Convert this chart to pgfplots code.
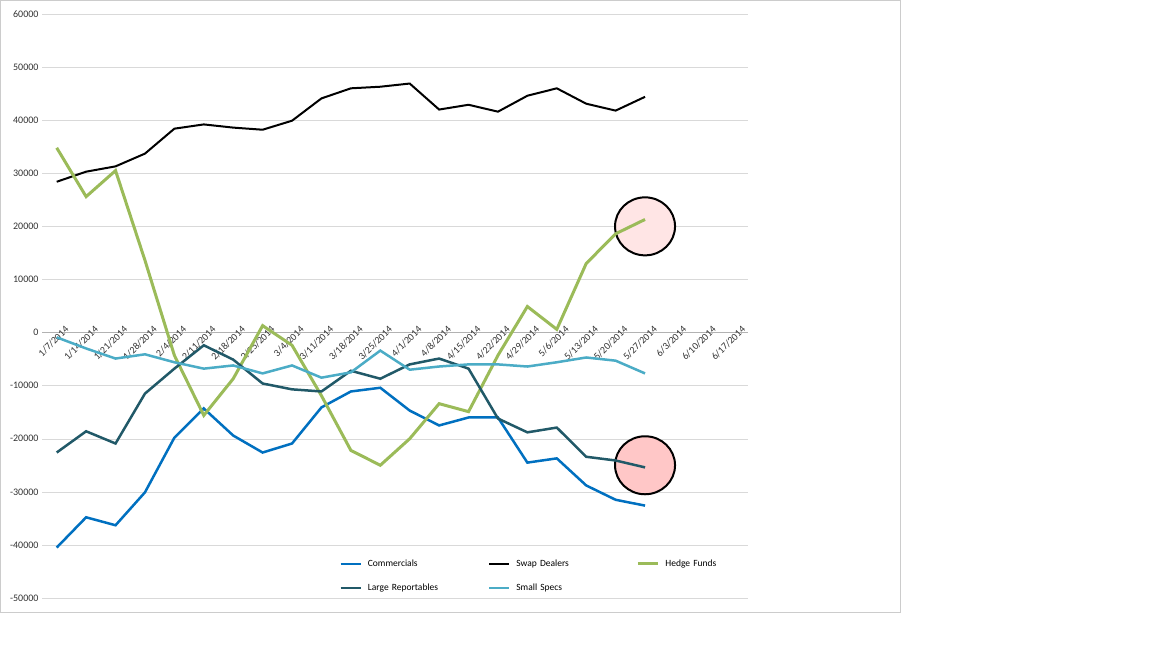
\documentclass[border=0pt]{standalone}
\usepackage{pgfplots}
\pgfplotsset{compat=1.18}
\usepackage{fontspec}
\setmainfont{Carlito}
\definecolor{cblue}{HTML}{0070C0}
\definecolor{cgreen}{HTML}{9BBB59}
\definecolor{cdark}{HTML}{215968}
\definecolor{clight}{HTML}{4BACC6}
\begin{document}
\begin{tikzpicture}[x=1pt,y=1pt]
\fill[white] (0,0) rectangle (1152,648);
\draw[gray!40] (0.5,36) rectangle (900,647.5);
\begin{axis}[at={(42pt,50pt)},anchor=south west,scale only axis,width=706pt,height=584pt,
 xmin=-0.5,xmax=23.5,ymin=-50000,ymax=60000,
 axis x line=middle, axis y line=left,
 x axis line style={draw=gray!60,-}, y axis line style={draw=none},
 ytick={-50000,-40000,...,60000}, ymajorgrids, grid style={gray!30},
 major tick length=0pt,
 scaled y ticks=false,
 yticklabel style={/pgf/number format/.cd,1000 sep={},assume math mode=true},
 xtick={0,...,23},
 xticklabels={1/7/2014,1/14/2014,1/21/2014,1/28/2014,2/4/2014,2/11/2014,2/18/2014,2/25/2014,3/4/2014,3/11/2014,3/18/2014,3/25/2014,4/1/2014,4/8/2014,4/15/2014,4/22/2014,4/29/2014,5/6/2014,5/13/2014,5/20/2014,5/27/2014,6/3/2014,6/10/2014,6/17/2014},
 xticklabel style={rotate=45,anchor=east,xshift=14pt,yshift=-4pt},
 tick label style={font=\fontsize{10}{11}\selectfont,text=black!80},
 legend style={at={(axis cs:9.5,-42000)},anchor=north west,draw=none,fill=none,font=\fontsize{9.5}{10}\selectfont,
   nodes={text width=118pt,anchor=west}, /tikz/every odd column/.append style={column sep=4pt}, row sep=12pt},
 legend columns=3, legend cell align=left,
 legend image code/.code={\draw[#1] (0pt,0pt) -- (20pt,0pt);},
 clip=false]
\draw[black,line width=2pt,fill=red!10] (axis cs:20,20000) ellipse [x radius=30pt,y radius=29pt];
\draw[black,line width=2pt,fill=red!22] (axis cs:20,-25000) ellipse [x radius=30pt,y radius=29pt];
\addplot[cblue,line width=2.5pt] coordinates {(0,-40500)(1,-34800)(2,-36300)(3,-30100)(4,-19800)(5,-14300)(6,-19400)(7,-22600)(8,-20900)(9,-14100)(10,-11100)(11,-10400)(12,-14700)(13,-17500)(14,-16000)(15,-16000)(16,-24500)(17,-23700)(18,-28800)(19,-31500)(20,-32600)};
\addlegendentry{Commercials}
\addplot[black,line width=2pt] coordinates {(0,28400)(1,30300)(2,31300)(3,33700)(4,38400)(5,39200)(6,38600)(7,38200)(8,39900)(9,44100)(10,46000)(11,46300)(12,46900)(13,42000)(14,42900)(15,41600)(16,44600)(17,46000)(18,43100)(19,41800)(20,44400)};
\addlegendentry{Swap Dealers}
\addplot[cgreen,line width=3pt] coordinates {(0,34800)(1,25600)(2,30500)(3,13600)(4,-4300)(5,-15600)(6,-8700)(7,1300)(8,-2400)(9,-11900)(10,-22200)(11,-25000)(12,-20000)(13,-13400)(14,-14900)(15,-4300)(16,4900)(17,600)(18,13000)(19,18600)(20,21300)};
\addlegendentry{Hedge Funds}
\addplot[cdark,line width=2.5pt] coordinates {(0,-22600)(1,-18600)(2,-20900)(3,-11500)(4,-6800)(5,-2400)(6,-5100)(7,-9600)(8,-10700)(9,-11100)(10,-7200)(11,-8700)(12,-6000)(13,-4900)(14,-6800)(15,-16200)(16,-18800)(17,-17900)(18,-23400)(19,-24100)(20,-25400)};
\addlegendentry{Large Reportables}
\addplot[clight,line width=2.5pt] coordinates {(0,-900)(1,-3000)(2,-4900)(3,-4100)(4,-5600)(5,-6800)(6,-6200)(7,-7700)(8,-6200)(9,-8500)(10,-7500)(11,-3400)(12,-7000)(13,-6400)(14,-6000)(15,-6000)(16,-6400)(17,-5600)(18,-4700)(19,-5300)(20,-7700)};
\addlegendentry{Small Specs}
\end{axis}
\end{tikzpicture}
\end{document}
